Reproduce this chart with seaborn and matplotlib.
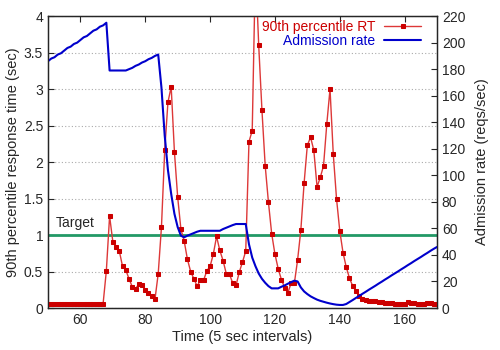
import matplotlib
matplotlib.use("Agg")
import matplotlib.pyplot as plt
from matplotlib.ticker import FuncFormatter, MultipleLocator
import seaborn as sns
import numpy as np
import pandas as pd

# time axis, one sample per 5 sec interval
t = np.arange(50, 171)

# 90th percentile response time (sec)
rt90 = [0.05, 0.05, 0.05, 0.05, 0.05, 0.05, 0.05, 0.05, 0.05, 0.05,
        0.05, 0.05, 0.05, 0.05, 0.05, 0.05, 0.06, 0.06,
        0.51, 1.26, 0.91, 0.83, 0.78, 0.57, 0.52, 0.40, 0.29, 0.26,
        0.33, 0.32, 0.25, 0.20, 0.16, 0.12, 0.47, 1.11, 2.16, 2.82,
        3.03, 2.14, 1.52, 1.08, 0.92, 0.67, 0.50, 0.40, 0.30, 0.38,
        0.38, 0.51, 0.57, 0.74, 0.98, 0.79, 0.65, 0.47, 0.46, 0.34,
        0.31, 0.49, 0.63, 0.78, 2.28, 2.43, 4.7, 3.60, 2.71, 1.95,
        1.45, 1.02, 0.74, 0.54, 0.39, 0.28, 0.21, 0.34, 0.34, 0.66,
        1.07, 1.71, 2.23, 2.34, 2.16, 1.66, 1.79, 1.95, 2.52, 3.00,
        2.11, 1.50, 1.06, 0.76, 0.56, 0.41, 0.30, 0.23, 0.17, 0.13,
        0.11, 0.10, 0.09, 0.09, 0.08, 0.08, 0.07, 0.07, 0.07, 0.06,
        0.06, 0.06, 0.06, 0.08, 0.07, 0.07, 0.06, 0.06, 0.06, 0.07,
        0.07, 0.06, 0.06]

# admission rate (reqs/sec)
adm_rate = [186, 188, 189, 191, 192, 194, 196, 197, 199, 200,
            202, 204, 205, 207, 209, 210, 212, 213, 215,
            179, 179, 179, 179, 179, 179,
            180, 181, 182.5, 183.5, 185, 186, 187.5, 188.5, 190, 191,
            166, 130, 104, 86, 71, 61, 54.5,
            53.3, 54.5, 55.5, 56.5, 57.5, 58.2, 58.2, 58.2, 58.2, 58.2, 58.2, 58.2,
            59.5, 60.5, 61.5, 62.5, 63.3, 63.3, 63.3, 63.3,
            48, 38, 31.5, 26, 22, 19, 16.5, 14.8,
            14.8, 14.8, 16, 17, 18.3, 19.5, 20.6,
            20, 15.5, 12.5, 10.5, 8.8, 7.5, 6.3, 5.4, 4.7, 4, 3.4, 2.9, 2.5, 2.3, 2.3,
            3, 4.5, 6, 7.6, 9.1, 10.7, 12.2, 13.8, 15.3, 16.8, 18.4, 19.9, 21.5, 23,
            24.6, 26.1, 27.6, 29.2, 30.7, 32.3, 33.8, 35.4, 36.9, 38.4, 40, 41.5,
            43.1, 44.6, 46]

target = 1.0

df = pd.DataFrame({"t": t, "rt90": rt90, "adm": adm_rate})

sns.set_style("white")
plt.rcParams['font.family'] = ['Liberation Sans', 'DejaVu Sans']
plt.rcParams['font.size'] = 10

fig = plt.figure(figsize=(5, 3.5), dpi=100)
ax = fig.add_axes([0.096, 0.12, 0.778, 0.834])
ax2 = ax.twinx()

ax.axhline(target, color='#229966', lw=2, zorder=2)
ax.text(52.5, 1.07, "Target", fontsize=10, va='bottom', ha='left')

sns.lineplot(data=df, x="t", y="rt90", ax=ax, color='#dd3838', lw=1,
             marker='s', markersize=3.3, markerfacecolor='#cc0000',
             markeredgecolor='#cc0000', label="90th percentile RT", legend=False, zorder=3)
sns.lineplot(data=df, x="t", y="adm", ax=ax2, color='#0000cc', lw=1.5,
             label="Admission rate", legend=False)

ax.set_xlim(50, 170)
ax.set_ylim(0, 4)
ax2.set_ylim(0, 220)

ax.xaxis.set_major_locator(MultipleLocator(20))
ax.yaxis.set_major_locator(MultipleLocator(0.5))
ax2.yaxis.set_major_locator(MultipleLocator(20))
ax.yaxis.set_major_formatter(FuncFormatter(lambda v, p: "%g" % v))

ax.grid(axis='y', color='#aaaaaa', linestyle=(0, (1, 2)), lw=0.8)
ax.tick_params(direction='in', length=4, top=True, labelsize=10, width=0.8)
ax2.tick_params(direction='in', length=4, labelsize=10, width=0.8)
for sp in ax.spines.values():
    sp.set_linewidth(1)

ax.set_xlabel("Time (5 sec intervals)", fontsize=10.5, labelpad=2)
ax.set_ylabel("90th percentile response time (sec)", fontsize=10.5, labelpad=3)
ax2.set_ylabel("Admission rate (reqs/sec)", fontsize=10.5, labelpad=7)

h1, l1 = ax.get_legend_handles_labels()
h2, l2 = ax2.get_legend_handles_labels()
ax2.legend(h1 + h2, l1 + l2, loc='upper right', bbox_to_anchor=(0.985, 1.02),
           frameon=False, markerfirst=False, handlelength=2.7, fontsize=10,
           labelspacing=0.0, handletextpad=0.6, borderpad=0.2,
           labelcolor=['#cc0000', '#0000cc'], numpoints=1)

fig.savefig("out.png", dpi=100)
